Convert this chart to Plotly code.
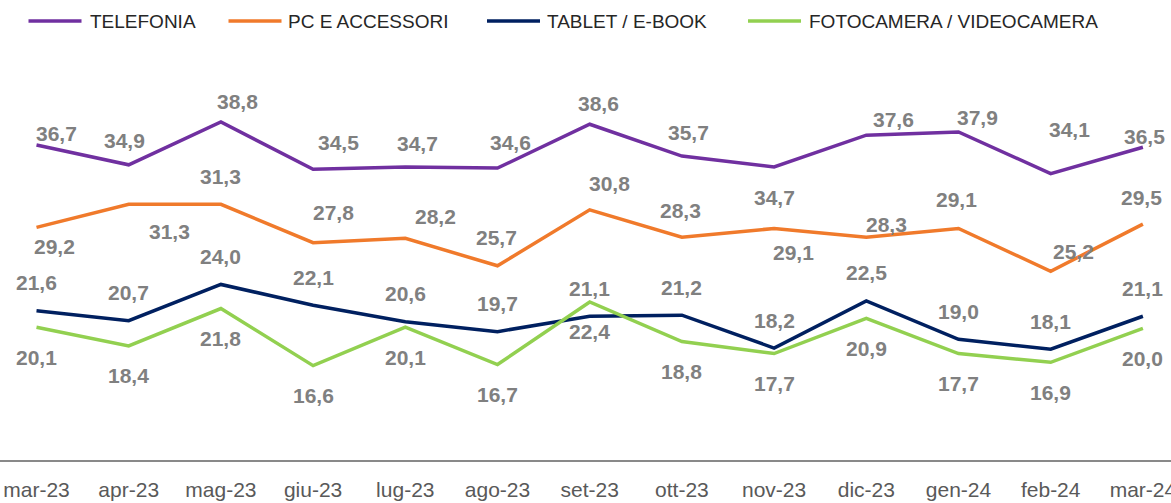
import plotly.graph_objects as go

months = ["mar-23", "apr-23", "mag-23", "giu-23", "lug-23", "ago-23", "set-23",
          "ott-23", "nov-23", "dic-23", "gen-24", "feb-24", "mar-24"]
telefonia = [36.7, 34.9, 38.8, 34.5, 34.7, 34.6, 38.6, 35.7, 34.7, 37.6, 37.9, 34.1, 36.5]
pc_accessori = [29.2, 31.3, 31.3, 27.8, 28.2, 25.7, 30.8, 28.3, 29.1, 28.3, 29.1, 25.2, 29.5]
tablet_ebook = [21.6, 20.7, 24.0, 22.1, 20.6, 19.7, 21.1, 21.2, 18.2, 22.5, 19.0, 18.1, 21.1]
foto_video = [20.1, 18.4, 21.8, 16.6, 20.1, 16.7, 22.4, 18.8, 17.7, 20.9, 17.7, 16.9, 20.0]
series_names = ["TELEFONIA", "PC E ACCESSORI", "TABLET / E-BOOK", "FOTOCAMERA / VIDEOCAMERA"]

# styling / label placement (pixel offsets of each data label from its point)
colors = ["#7030A0", "#F07A2B", "#002060", "#92D050"]
off_tel = [(20, -13), (-4, -25), (17, -22), (25, -28), (12, -25), (13, -27), (9, -22),
           (7, -25), (0, 29), (27, -17), (19, -15), (19, -45), (2, -12)]
off_pc = [(18, 18), (41, 26), (0, -29), (20, -31), (30, -23), (-1, -29), (20, -27),
          (-1, -28), (19, 23), (20, -14), (-2, -30), (23, -21), (-1, -28)]
off_tab = [(0, -29)] * 13
off_foto = [(0, 29)] * 13

W, H = 1171, 503
T, B = 54, 43
PH = H - T - B
Y0, Y1 = 8, 45
X0 = -36.5 / 92.2
X1 = (W - 36.5) / 92.2

FONT = "Arial, Liberation Sans, sans-serif"

fig = go.Figure()
all_series = [telefonia, pc_accessori, tablet_ebook, foto_video]
all_offsets = [off_tel, off_pc, off_tab, off_foto]
for name, vals, col in zip(series_names, all_series, colors):
    fig.add_trace(go.Scatter(x=months, y=vals, mode="lines", name=name,
                             line=dict(color=col, width=3.5), showlegend=False,
                             hoverinfo="x+y+name"))

annotations = []
for vals, offs in zip(all_series, all_offsets):
    for m, v, (dx, dy) in zip(months, vals, offs):
        annotations.append(dict(
            x=m, y=v, xref="x", yref="y", text=f"{v:.1f}".replace(".", ","),
            showarrow=False, xanchor="center", yanchor="middle",
            xshift=dx, yshift=-dy - 1,
            font=dict(family=FONT, size=21, color="#808080", weight="bold")))

# manual legend (line sample + label)
legend_items = [(28.5, 81.5, 87.5), (228.5, 281.5, 285.5), (487, 540, 544.5), (748, 801, 806.5)]
shapes = []
ly = (H - B - 21) / PH
for (xa, xb, xt), name, col in zip(legend_items, series_names, colors):
    shapes.append(dict(type="line", xref="paper", yref="paper", x0=xa / W, x1=xb / W,
                       y0=ly, y1=ly, line=dict(color=col, width=3.5)))
    annotations.append(dict(x=xt / W, y=ly, xref="paper", yref="paper", text=name,
                            showarrow=False, xanchor="left", yanchor="middle",
                            font=dict(family=FONT, size=19, color="#262626")))

fig.update_layout(
    width=W, height=H,
    margin=dict(l=0, r=0, t=T, b=B, pad=0),
    paper_bgcolor="white", plot_bgcolor="white",
    annotations=annotations, shapes=shapes,
    xaxis=dict(type="category", range=[X0, X1], showgrid=False, zeroline=False,
               showline=True, linecolor="#898989", linewidth=1.5,
               ticks="outside", ticklen=10, tickcolor="rgba(0,0,0,0)",
               tickfont=dict(family=FONT, size=21, color="#595959"),
               automargin=False, fixedrange=True),
    yaxis=dict(range=[Y0, Y1], visible=False, showgrid=False, fixedrange=True),
)

fig.write_html("out.html", config={"displayModeBar": False},
               post_script="document.body.style.margin='0';document.body.style.overflow='hidden';")
